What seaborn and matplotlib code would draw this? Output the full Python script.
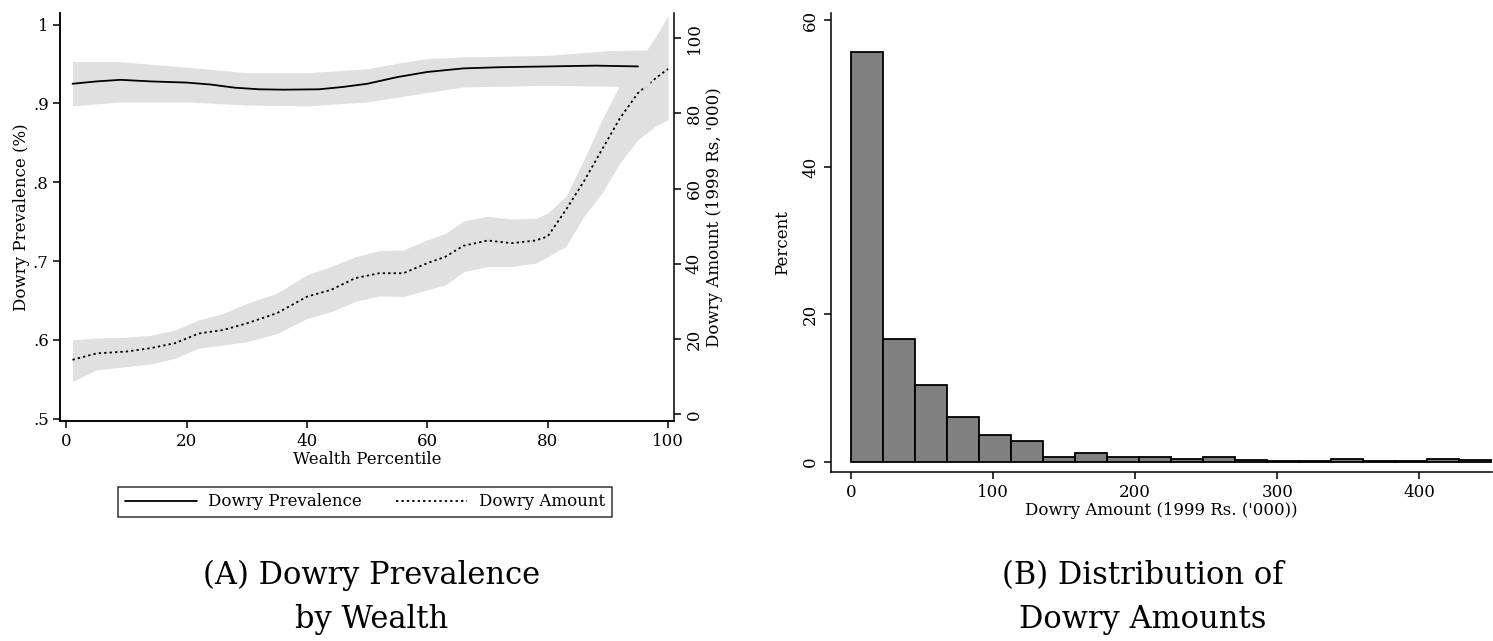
import numpy as np
import matplotlib
matplotlib.use("Agg")
import matplotlib.pyplot as plt
import pandas as pd
import seaborn as sns
from matplotlib.lines import Line2D

# panel A: local means by wealth percentile
prev_x = [1, 5, 9, 14, 20, 24, 28, 32, 36, 42, 46, 50, 55, 60, 66, 72, 80, 88, 95]
prev_y = [0.925, 0.928, 0.930, 0.928, 0.9265, 0.924, 0.920, 0.918, 0.9175, 0.918,
          0.921, 0.925, 0.9335, 0.940, 0.9445, 0.946, 0.947, 0.948, 0.947]
prev_band_x = [1, 9, 20, 30, 40, 50, 55, 60, 66, 80, 90, 97]
prev_hi = [0.953, 0.953, 0.946, 0.939, 0.939, 0.944, 0.951, 0.957, 0.959, 0.961, 0.967, 0.968]
prev_lo = [0.897, 0.902, 0.902, 0.898, 0.897, 0.902, 0.908, 0.914, 0.921, 0.923, 0.922, 0.921]

amt_x = [1, 5, 10, 14, 18, 22, 26, 30, 35, 40, 44, 48, 52, 56, 60, 63, 66, 70,
         74, 78, 80, 83, 86, 89, 92, 95, 98, 100]
amt_y = [14.5, 16.2, 16.7, 17.6, 18.9, 21.5, 22.4, 24.2, 26.9, 31.3, 33.1, 36.2,
         37.5, 37.5, 40.2, 41.9, 44.8, 46.2, 45.5, 46.2, 47.3, 54.3, 61.9, 70.3,
         78.7, 85.4, 89.4, 91.8]
amt_hi = [19.8, 20.3, 20.5, 21.0, 22.4, 25.1, 26.8, 29.5, 32.2, 37.1, 39.3, 41.9,
          43.5, 43.7, 46.4, 48.1, 51.4, 52.6, 51.9, 52.1, 53.5, 57.9, 67.6, 78.3,
          87.6, 93.4, 100.5, 106.0]
amt_lo = [8.7, 11.8, 12.7, 13.4, 14.9, 17.6, 18.4, 19.3, 21.5, 25.5, 27.3, 30.0,
          31.5, 31.3, 33.1, 34.4, 37.9, 39.3, 39.3, 40.2, 41.9, 44.6, 52.6, 58.8,
          66.8, 73.0, 76.7, 78.3]

# panel B: histogram of dowry amounts ('000 Rs), percent per bin
bin_width = 22.5
hist_pct = [55.7, 16.6, 10.4, 6.05, 3.57, 2.84, 0.69, 1.15, 0.6, 0.69,
            0.32, 0.69, 0.23, 0.14, 0.14, 0.41, 0.14, 0.14, 0.37, 0.27]

sns.set_style("ticks")
plt.rcParams['font.family'] = ['DejaVu Serif']
plt.rcParams['axes.linewidth'] = 1.1
plt.rcParams['xtick.major.width'] = 1.1
plt.rcParams['ytick.major.width'] = 1.1
plt.rcParams['xtick.color'] = 'black'
plt.rcParams['ytick.color'] = 'black'
plt.rcParams['xtick.labelcolor'] = 'black'
plt.rcParams['ytick.labelcolor'] = 'black'
plt.rcParams['axes.edgecolor'] = 'black'
plt.rcParams['axes.labelcolor'] = 'black'
plt.rcParams['text.color'] = 'black'

fs = 12
band = '#e0e0e0'
dots = (0, (1.3, 1.7))

fig = plt.figure(figsize=(14.93, 6.41), dpi=100)
ax = fig.add_axes([0.0405, 0.343, 0.411, 0.637])
ax2 = ax.twinx()

ax.fill_between(prev_band_x, prev_lo, prev_hi, color=band, lw=0, zorder=1)
ax2.fill_between(amt_x, amt_lo, amt_hi, color=band, lw=0, zorder=1)
sns.lineplot(x=prev_x, y=prev_y, ax=ax, color='black', lw=1.3, zorder=3)
sns.lineplot(x=amt_x, y=amt_y, ax=ax2, color='black', lw=1.3, linestyle=dots, zorder=3)

ax.set_xlim(-1, 101)
ax.set_ylim(0.497, 1.015)
ax2.set_ylim(-1.8, 106.7)
ax.set_xticks([0, 20, 40, 60, 80, 100])
ax.set_yticks([0.5, 0.6, 0.7, 0.8, 0.9, 1.0], ['.5', '.6', '.7', '.8', '.9', '1'])
ax2.set_yticks([0, 20, 40, 60, 80, 100])
ax.set_xlabel('Wealth Percentile', fontsize=fs, labelpad=1)
ax.set_ylabel('Dowry Prevalence (%)', fontsize=fs, labelpad=2)
ax2.set_ylabel("Dowry Amount (1999 Rs, '000)", fontsize=fs, labelpad=2)
ax.tick_params(labelsize=fs, length=5, direction='out')
ax2.tick_params(labelsize=fs, length=5, direction='out')
for lab in ax2.get_yticklabels():
    lab.set_rotation(90)
    lab.set_va('center')
for a in (ax, ax2):
    a.spines['top'].set_visible(False)
ax.spines['right'].set_visible(False)
ax.set_zorder(2)
ax2.set_zorder(1)
ax.patch.set_visible(False)

handles = [Line2D([], [], color='black', lw=1.3),
           Line2D([], [], color='black', lw=1.3, linestyle=dots)]
leg = fig.legend(handles, ['Dowry Prevalence', 'Dowry Amount'], ncol=2,
                 loc='center', bbox_to_anchor=(0.2445, 0.217), fontsize=fs,
                 frameon=True, fancybox=False, edgecolor='black',
                 handlelength=4.3, handletextpad=0.7, columnspacing=2.0,
                 borderpad=0.4)
leg.get_frame().set_linewidth(1.1)

# panel B
bx = fig.add_axes([0.5566, 0.2637, 0.4427, 0.7153])
n_bins = len(hist_pct)
hist_df = pd.DataFrame({'amount': (np.arange(n_bins) + 0.5) * bin_width, 'pct': hist_pct})
sns.histplot(data=hist_df, x='amount', weights='pct', binwidth=bin_width,
             binrange=(0, n_bins * bin_width), ax=bx,
             color='#808080', edgecolor='black', linewidth=1.3, alpha=1)
bx.set_xlim(-14, 451)
bx.set_ylim(-1.4, 60.9)
bx.set_xticks([0, 100, 200, 300, 400])
bx.set_yticks([0, 20, 40, 60])
bx.set_xlabel("Dowry Amount (1999 Rs. ('000))", fontsize=fs, labelpad=1)
bx.set_ylabel('Percent', fontsize=fs, labelpad=8)
bx.tick_params(labelsize=fs, length=5, direction='out')
for lab in bx.get_yticklabels():
    lab.set_rotation(90)
    lab.set_va('center')
bx.spines['top'].set_visible(False)
bx.spines['right'].set_visible(False)

cap = 22
fig.text(0.249, 1 - 584 / 641, '(A) Dowry Prevalence', ha='center', va='baseline', fontsize=cap)
fig.text(0.249, 1 - 628 / 641, 'by Wealth', ha='center', va='baseline', fontsize=cap)
fig.text(0.7656, 1 - 584 / 641, '(B) Distribution of', ha='center', va='baseline', fontsize=cap)
fig.text(0.7656, 1 - 628 / 641, 'Dowry Amounts', ha='center', va='baseline', fontsize=cap)

fig.savefig('out.png', dpi=100)
